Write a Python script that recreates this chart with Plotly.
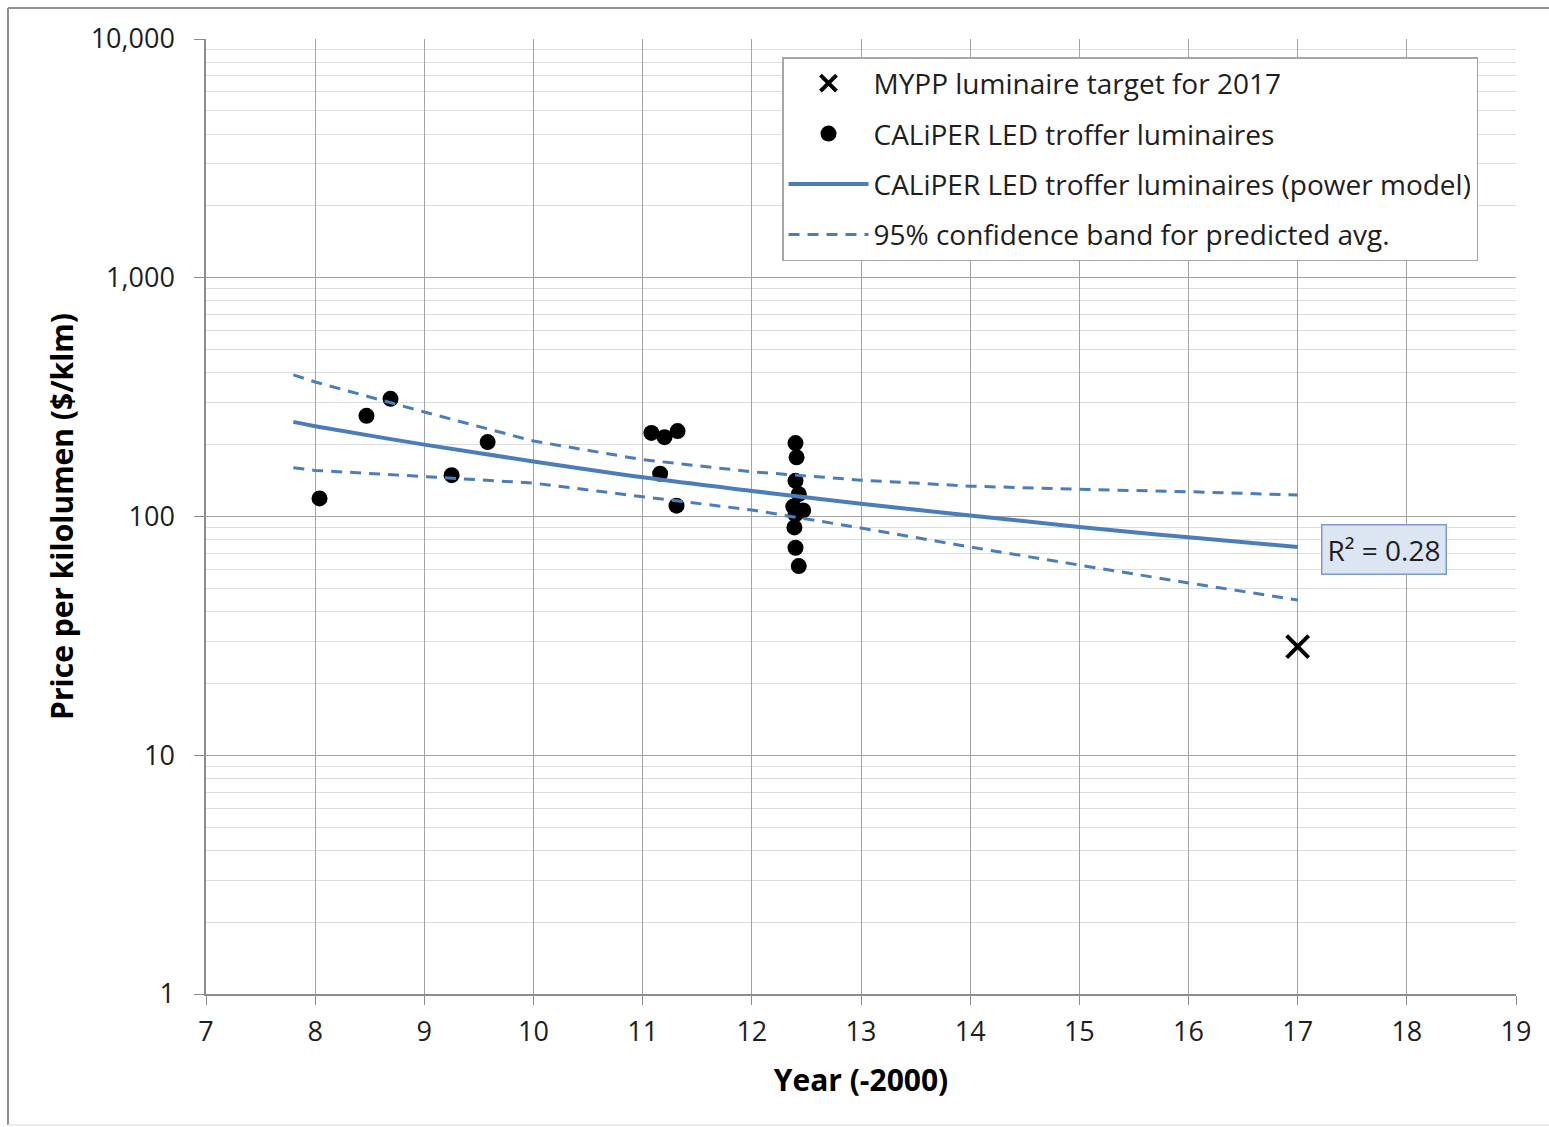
import plotly.graph_objects as go

# CALiPER LED troffer luminaires: year (-2000) and price per kilolumen ($/klm)
caliper_year = [8.04, 8.47, 8.69, 9.25, 9.58,
                11.08, 11.20, 11.32, 11.16, 11.31,
                12.40, 12.41, 12.40, 12.43, 12.38, 12.47, 12.40, 12.39, 12.40, 12.43]
caliper_price = [119, 264, 311, 149, 205,
                 224, 215, 228, 151, 111,
                 203, 177, 141, 124, 110, 106, 102, 90, 74, 62]

# MYPP luminaire target for 2017
target_year = [17]
target_price = [28.5]

# Power-model trend line and 95% confidence band for the predicted average
fit_year = [7.8, 8, 9, 10, 11, 12, 13, 14, 15, 16, 17]
fit_price = [249, 239, 200, 170, 146, 128, 113, 101, 90.4, 81.8, 74.5]
band_upper = [392, 366, 274, 207, 173, 154, 142, 134, 130, 127, 123]
band_lower = [160, 156, 147, 138, 121, 106.5, 89.5, 74.5, 62.6, 52.7, 44.7]

r_squared = "R² = 0.28"

x_ticks = list(range(7, 20))
y_ticks = [1, 10, 100, 1000, 10000]
y_tick_text = ["1", "10", "100", "1,000", "10,000"]
y_minor = [m * d for d in (1, 10, 100, 1000) for m in range(2, 10)]

FONT = "Open Sans"
TXT = "#1e1e1e"
BLUE = "#4a7ebb"
TEXT_SIZE = 28
TICK_SIZE = 27
TITLE_SIZE = 30

fig = go.Figure()

fig.add_trace(go.Scatter(
    x=target_year, y=target_price, mode="markers",
    name="MYPP luminaire target for 2017", legendgroup="g1",
    marker=dict(symbol="x-thin-open", size=22, color="black",
                line=dict(width=4, color="black")),
))
fig.add_trace(go.Scatter(
    x=caliper_year, y=caliper_price, mode="markers",
    name="CALiPER LED troffer luminaires", legendgroup="g2",
    marker=dict(symbol="circle", size=16, color="black"),
))
fig.add_trace(go.Scatter(
    x=fit_year, y=fit_price, mode="lines", line_shape="spline",
    name="CALiPER LED troffer luminaires (power model)", legendgroup="g3",
    line=dict(color=BLUE, width=4),
))
fig.add_trace(go.Scatter(
    x=fit_year, y=band_upper, mode="lines",
    name="95% confidence band for predicted avg.", legendgroup="g4",
    line=dict(color=BLUE, width=3, dash="11px,8px"),
))
fig.add_trace(go.Scatter(
    x=fit_year, y=band_lower, mode="lines",
    name="95% confidence band for predicted avg.", legendgroup="g4",
    showlegend=False,
    line=dict(color=BLUE, width=3, dash="11px,8px"),
))

# plot area spans pixels 206..1516 horizontally, 39..994 vertically
L, R, T, B = 206, 33, 39, 133
W, H = 1549, 1127
pw, ph = W - L - R, H - T - B


def px_x(p):
    return (p - L) / pw


def px_y(p):
    return (H - B - p) / ph


fig.update_layout(
    width=W, height=H,
    margin=dict(l=L, r=R, t=T, b=B),
    paper_bgcolor="white", plot_bgcolor="white",
    font=dict(family=FONT, size=TEXT_SIZE, color=TXT),
    showlegend=True,
    legend=dict(
        x=px_x(782), y=px_y(57), xanchor="left", yanchor="top",
        bgcolor="white", bordercolor="#a6a6a6", borderwidth=1.5,
        font=dict(family=FONT, size=TEXT_SIZE, color=TXT),
        tracegroupgap=11, itemwidth=80,
        traceorder="grouped",
    ),
    xaxis=dict(
        range=[7, 19], tickvals=x_ticks,
        showgrid=True, gridcolor="#a3a3a3", gridwidth=1.3,
        showline=True, linecolor="#8c8c8c", linewidth=1.5,
        ticks="outside", ticklen=9, tickcolor="#8c8c8c", tickwidth=1.3,
        ticklabelstandoff=4,
        tickfont=dict(family=FONT, size=TICK_SIZE, color=TXT),
        title=dict(text="<b>Year (-2000)</b>", standoff=22,
                   font=dict(family=FONT, size=TITLE_SIZE, color="black")),
        zeroline=False,
    ),
    yaxis=dict(
        type="log", range=[0, 4],
        tickvals=y_ticks, ticktext=y_tick_text,
        showgrid=True, gridcolor="#a3a3a3", gridwidth=1.3,
        showline=True, linecolor="#8c8c8c", linewidth=1.5,
        ticks="outside", ticklen=10, tickcolor="#8c8c8c", tickwidth=1.3,
        ticklabelstandoff=14,
        tickfont=dict(family=FONT, size=TICK_SIZE, color=TXT),
        minor=dict(tickvals=y_minor, showgrid=True, gridcolor="#dedede",
                   gridwidth=1.2, ticks=""),
        title=dict(text="<b>Price per kilolumen ($/klm)</b>", standoff=8,
                   font=dict(family=FONT, size=TITLE_SIZE, color="black")),
        zeroline=False,
    ),
)

# R² label beside the end of the trend line
fig.add_annotation(
    x=fit_year[-1], y=1.86, xref="x", yref="y",
    xanchor="left", yanchor="middle", xshift=23,
    text=r_squared, showarrow=False,
    font=dict(family=FONT, size=TEXT_SIZE, color=TXT),
    bgcolor="#dce6f2", bordercolor="#7f9cc8", borderwidth=1.5, borderpad=5,
)

# chart frame
frame = dict(color="#8f8f8f", width=2)
fig.add_shape(type="line", xref="paper", yref="paper",
              x0=px_x(8), x1=px_x(1549), y0=px_y(8), y1=px_y(8), line=frame)
fig.add_shape(type="line", xref="paper", yref="paper",
              x0=px_x(8), x1=px_x(8), y0=px_y(8), y1=px_y(1125), line=frame)
fig.add_shape(type="line", xref="paper", yref="paper",
              x0=px_x(8), x1=px_x(1549), y0=px_y(1125), y1=px_y(1125),
              line=dict(color="#e6e6e6", width=1.5))

fig.write_html("out.html")
